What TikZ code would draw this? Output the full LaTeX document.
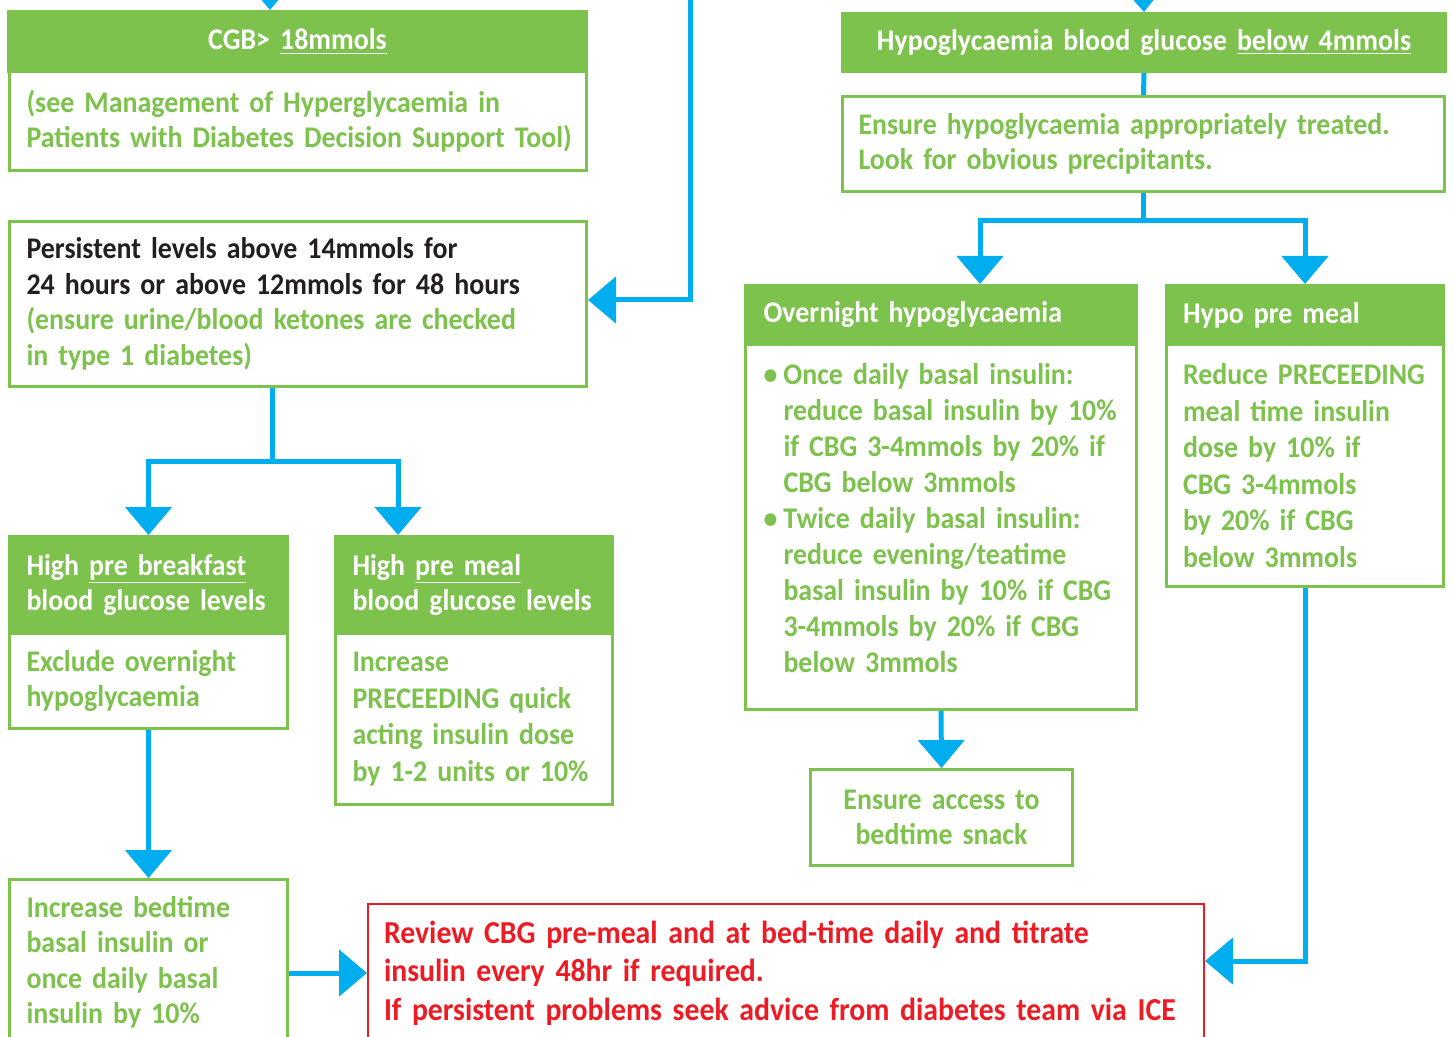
\documentclass[tikz,border=0pt]{standalone}
\usepackage{fontspec}
\setmainfont[FakeStretch=0.93]{Carlito}
\usetikzlibrary{arrows.meta,calc}

\definecolor{hgreen}{RGB}{126,194,78}
\definecolor{flowblue}{RGB}{0,174,239}
\definecolor{alertred}{RGB}{237,28,36}
\definecolor{inkblack}{RGB}{35,31,32}

\newcommand{\bulitem}{\makebox[10pt][l]{\textbullet}}
\newcommand{\bulgap}{\hspace*{10pt}}
\newcommand{\boxfont}[2]{\fontsize{#1}{#2}\selectfont\bfseries}

\tikzset{
  boxtext/.style={font=\boxfont{15}{17.75}},
  headbox/.style={boxtext, rectangle, fill=hgreen, draw=hgreen, line width=1.5pt,
    text=white, anchor=north west, align=left, inner xsep=8.5pt, inner ysep=0pt},
  bodybox/.style={boxtext, rectangle, fill=white, draw=hgreen, line width=1.5pt,
    text=hgreen, anchor=north west, align=left, inner xsep=8.5pt, inner ysep=0pt},
  alertbox/.style={rectangle, draw=alertred, line width=1pt, text=alertred,
    font=\boxfont{16}{19.25}, anchor=north west, align=left,
    inner xsep=8pt, inner ysep=0pt},
  flowline/.style={draw=flowblue, line width=2.5pt},
  flow/.style={flowline, -{Triangle[width=23pt,length=14pt]}},
}

\begin{document}
\begin{tikzpicture}[x=0.5pt, y=-0.5pt]
  \useasboundingbox (0,0) rectangle (1454,1037);
  \clip (0,0) rectangle (1454,1037);

  % left column
  \node[headbox, minimum width=289pt, minimum height=30pt, text width=272pt, align=center]
    (cgbhead) at (7,10) {CGB> \underline{18mmols}};
  \node[bodybox, minimum width=288.5pt, minimum height=49.5pt, text width=271.5pt]
    (cgbbody) at (8,70) {\mbox{(see Management of Hyperglycaemia in}\\
      \mbox{Patients with Diabetes Decision Support Tool)}};
  \node[bodybox, minimum width=288.5pt, minimum height=82.5pt, text width=271.5pt]
    (persist) at (8,220) {\textcolor{inkblack}{Persistent levels above 14mmols for}\\
      \textcolor{inkblack}{24 hours or above 12mmols for 48 hours}\\
      (ensure urine/blood ketones are checked\\in type 1 diabetes)};

  \node[headbox, minimum width=139pt, minimum height=48.5pt, text width=122pt]
    (breakhead) at (8,535) {High \underline{pre breakfast}\\blood glucose levels};
  \node[bodybox, minimum width=139pt, minimum height=47.5pt, text width=122pt]
    (breakbody) at (8,632) {Exclude overnight\\hypoglycaemia};
  \node[headbox, minimum width=138.5pt, minimum height=48.5pt, text width=121.5pt]
    (mealhead) at (334,535) {High \underline{pre meal}\\blood glucose levels};
  \node[bodybox, minimum width=138.5pt, minimum height=85.5pt, text width=121.5pt,
    font=\boxfont{15}{18.25}]
    (mealbody) at (334,632) {Increase\\PRECEEDING quick\\acting insulin dose\\by 1-2 units or 10\%};
  \node[bodybox, minimum width=139pt, minimum height=83pt, text width=122pt]
    (bedtime) at (8,878) {Increase bedtime\\basal insulin or\\once daily basal\\insulin by 10\%};

  \node[alertbox, minimum width=418pt, minimum height=69pt, text width=402pt]
    (review) at (367,903) {\mbox{Review CBG pre-meal and at bed-time daily and titrate}\\
      insulin every 48hr if required.\\
      \mbox{If persistent problems seek advice from diabetes team via ICE}};

  % right column
  \node[headbox, minimum width=301.5pt, minimum height=29pt, text width=284pt, align=center]
    (hypohead) at (841,12) {Hypoglycaemia blood glucose \underline{below 4mmols}};
  \node[bodybox, minimum width=301pt, minimum height=47.5pt, text width=285pt, inner xsep=8pt]
    (ensure) at (841,95) {Ensure hypoglycaemia appropriately treated.\\Look for obvious precipitants.};

  \node[headbox, minimum width=195.5pt, minimum height=29.5pt, text width=177.5pt, inner xsep=9pt]
    (nighthead) at (744,284) {Overnight hypoglycaemia};
  \node[bodybox, minimum width=195.5pt, minimum height=182.5pt, text width=177.5pt, inner xsep=9pt,
    font=\boxfont{15}{18}]
    (nightbody) at (744,343) {\bulitem Once daily basal insulin:\\
      \bulgap reduce basal insulin by 10\%\\
      \bulgap if CBG 3-4mmols by 20\% if\\
      \bulgap CBG below 3mmols\\
      \bulitem Twice daily basal insulin:\\
      \bulgap reduce evening/teatime\\
      \bulgap basal insulin by 10\% if CBG\\
      \bulgap 3-4mmols by 20\% if CBG\\
      \bulgap below 3mmols\\[-9pt]\mbox{}};
  \node[headbox, minimum width=138.5pt, minimum height=29.5pt, text width=122pt, inner xsep=8.25pt]
    (prehead) at (1165,284) {Hypo pre meal};
  \node[bodybox, minimum width=138.5pt, minimum height=121pt, text width=122pt, inner xsep=8.25pt,
    font=\boxfont{15}{18.25}]
    (prebody) at (1165,343) {Reduce PRECEEDING\\meal time insulin\\dose by 10\% if\\CBG 3-4mmols\\by 20\% if CBG\\below 3mmols};
  \node[bodybox, minimum width=130.5pt, minimum height=48pt, text width=114pt, align=center]
    (snack) at (809,768) {Ensure access to\\bedtime snack};

  % connectors
  \coordinate (topleft) at (270,-40);
  \coordinate (topmid) at (690,-10);
  \coordinate (topright) at (1142.5,-40);
  \draw[flow] (topleft) -- ($(cgbhead.north west)+(263,0)$);
  \draw[flow] (topright) -- (hypohead.north);
  \draw[flow] (topmid) |- ([yshift=2pt]persist.east);

  \draw[flowline] ($(persist.south west)+(264,0)$) -- ++(0,73) coordinate (splitleft);
  \draw[flow] ([xshift=-1.25pt]splitleft) -| (breakhead.north);
  \draw[flow] ([xshift=-1.25pt]splitleft) -| ($(mealhead.north west)+(64,0)$);
  \draw[flow] (breakbody.south) -- (bedtime.north);
  \draw[flow] (bedtime.east |- review.west) -- (review.west);

  \draw[flowline] (hypohead.south) -- (ensure.north);
  \draw[flowline] (ensure.south) -- ++(0,28) coordinate (splitright);
  \draw[flow] ([xshift=1.25pt]splitright) -| ($(nighthead.north west)+(236,0)$);
  \draw[flow] ([xshift=-1.25pt]splitright) -| (prehead.north);
  \draw[flow] (nightbody.south) -- (snack.north);
  \draw[flow] (prebody.south) |- ([yshift=6pt]review.east);
\end{tikzpicture}
\end{document}
